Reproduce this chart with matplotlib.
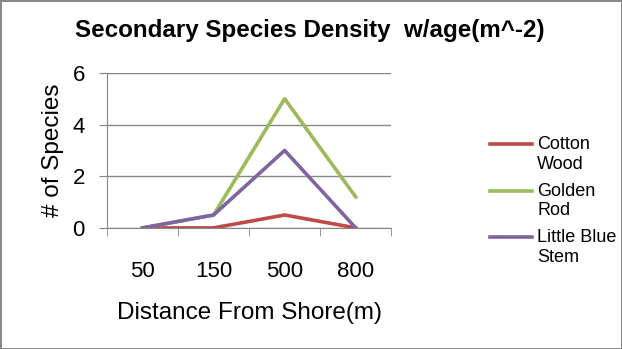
import matplotlib.pyplot as plt

plt.rcParams['font.family'] = ['Liberation Sans', 'DejaVu Sans']

# chart data
distances = ['50', '150', '500', '800']
cotton_wood = [0, 0, 0.5, 0]
golden_rod = [0, 0.5, 5, 1.2]
little_blue_stem = [0, 0.5, 3, 0]

fig = plt.figure(figsize=(6.22, 3.49), dpi=100)
fig.patch.set_edgecolor('#888888')
fig.patch.set_linewidth(2)

ax = fig.add_axes([0.172, 0.347, 0.457, 0.444])
x = range(len(distances))
ax.plot(x, cotton_wood, color='#BE4B48', linewidth=2.6, label='Cotton\nWood')
ax.plot(x, golden_rod, color='#9BBB59', linewidth=2.6, label='Golden\nRod')
ax.plot(x, little_blue_stem, color='#8064A2', linewidth=2.6, label='Little Blue\nStem')

ax.set_xlim(-0.5, len(distances) - 0.5)
ax.set_ylim(0, 6)
ax.set_yticks([0, 2, 4, 6])
ax.set_xticks(x)
ax.set_xticklabels(distances)
ax.set_xticks([i - 0.5 for i in range(len(distances) + 1)], minor=True)
ax.tick_params(axis='x', which='major', length=0, pad=24, labelsize=16)
ax.tick_params(axis='x', which='minor', length=6, color='#868686', direction='out')
ax.tick_params(axis='y', length=6, color='#868686', labelsize=16, pad=10)
ax.grid(axis='y', color='#868686', linewidth=1)
for s in ['top', 'right']:
    ax.spines[s].set_visible(False)
for s in ['left', 'bottom']:
    ax.spines[s].set_color('#868686')

ax.set_xlabel('Distance From Shore(m)', fontsize=17.5, labelpad=14)
ax.set_ylabel('# of Species', fontsize=17.5, labelpad=6)
fig.text(0.498, 1 - 31 / 349, 'Secondary Species Density  w/age(m^-2)', ha='center', va='center',
         fontsize=17.4, fontweight='bold')

leg = fig.legend(loc='upper left', bbox_to_anchor=(490 / 622, 1 - 136 / 349), frameon=False,
                 fontsize=13, handlelength=2.33, labelspacing=0.55, handletextpad=0.28,
                 borderpad=0, borderaxespad=0)
for line in leg.get_lines():
    line.set_ydata([y + 7.5 for y in line.get_ydata()])
    line.set_linewidth(2.6)

fig.savefig('out.png', dpi=100, edgecolor=fig.get_edgecolor())
